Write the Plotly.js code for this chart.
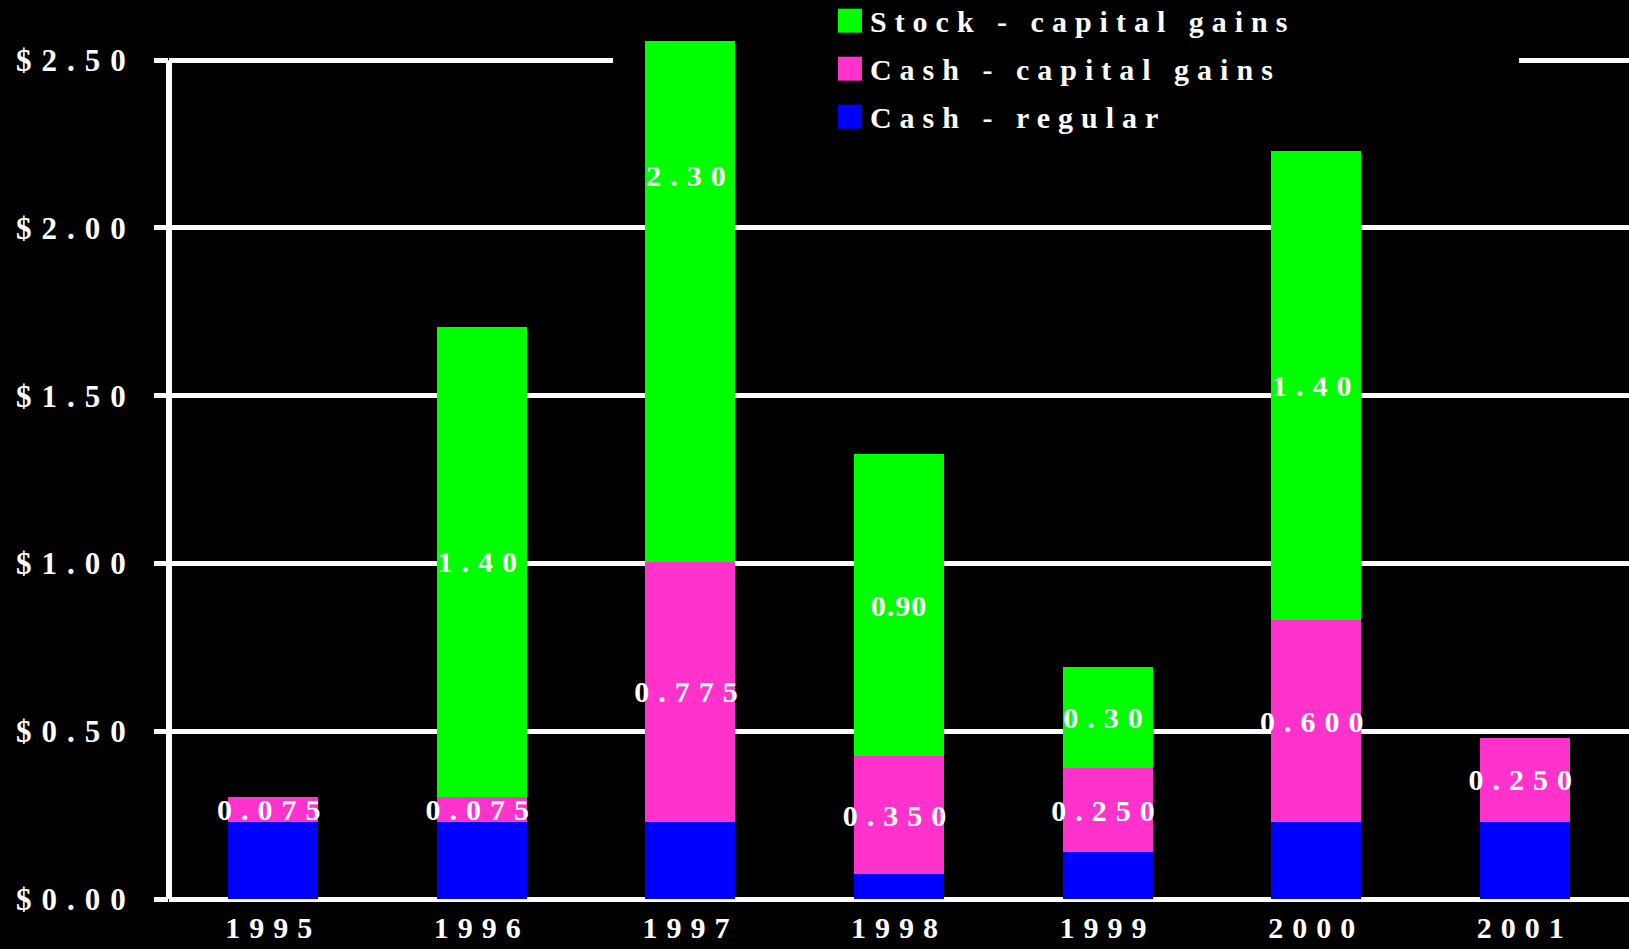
<!DOCTYPE html>
<html><head><meta charset="utf-8">
<script src="https://cdn.plot.ly/plotly-3.0.1.min.js"></script>
<style>
html,body{margin:0;padding:0;background:#000;}
#chart{width:1629px;height:949px;}
#chart .ytick text{letter-spacing:10px;}
#chart .xtick text{letter-spacing:9px;}
#chart .bartext{letter-spacing:9px;}
#chart .legendtext{letter-spacing:8px;}
#chart .legend g, #chart .legend .scrollbox{clip-path:none !important;}
</style></head><body><div id="chart"></div>
<script>
const years = ["1995","1996","1997","1998","1999","2000","2001"];
const cashRegular = [0.23, 0.23, 0.23, 0.075, 0.14, 0.23, 0.23];
const cashCapGains = [0.075, 0.075, 0.775, 0.35, 0.25, 0.60, 0.25];
const stockCapGains = [null, 1.40, 2.30, 0.90, 0.30, 1.40, null];
const cashCapGainsLabels = ["0.075","0.075","0.775","0.350","0.250","0.600","0.250"];
const stockCapGainsLabels = ["","1.40","2.30","0.90","0.30","1.40",""];
const yTickVals = [0, 0.5, 1, 1.5, 2, 2.5];
const yTickText = ["$0.00","$0.50","$1.00","$1.50","$2.00","$2.50"];
const seriesNames = ["Cash - regular","Cash - capital gains","Stock - capital gains"];
const seriesColors = ["#0000FF","#FF33CC","#00FF00"];
const legendRanks = [3, 2, 1];

const FONT = "Liberation Serif, 'Times New Roman', serif";
const labelFont = {family: FONT, size: 30, color: "#FFFFFF", weight: "bold"};

function barTrace(i, values, labels) {
  const t = {
    type: "bar", name: seriesNames[i], x: years, y: values,
    marker: {color: seriesColors[i], line: {width: 0}},
    legendgroup: "g" + i, legendrank: legendRanks[i], hoverinfo: "skip"
  };
  if (labels) {
    t.text = labels;
    t.textposition = "inside";
    t.insidetextanchor = "middle";
    t.textangle = 0;
    t.constraintext = "none";
    t.insidetextfont = labelFont;
    t.textfont = labelFont;
  } else {
    t.textposition = "none";
  }
  return t;
}

const data = [
  barTrace(0, cashRegular, null),
  barTrace(1, cashCapGains, cashCapGainsLabels),
  barTrace(2, stockCapGains, stockCapGainsLabels)
];

const layout = {
  width: 1629, height: 949,
  paper_bgcolor: "#000000", plot_bgcolor: "#000000",
  margin: {l: 169, r: 0, t: 41, b: 50, autoexpand: false},
  barmode: "stack", bargap: 0.568,
  showlegend: true,
  legend: {
    x: 0.4527, y: 1.054, xanchor: "left", yanchor: "top",
    bgcolor: "rgba(0,0,0,0)", borderwidth: 0,
    traceorder: "grouped", tracegroupgap: 6,
    font: {family: FONT, size: 30, color: "#FFFFFF", weight: "bold"}
  },
  xaxis: {
    type: "category", showgrid: false, zeroline: false, showline: false,
    ticks: "", tickfont: {family: FONT, size: 30, color: "#FFFFFF", weight: "bold"},
    ticklabelstandoff: 8
  },
  yaxis: {
    range: [0, 2.557], tickmode: "array", tickvals: yTickVals, ticktext: yTickText,
    showgrid: true, gridcolor: "#FFFFFF", gridwidth: 5,
    zeroline: true, zerolinecolor: "#FFFFFF", zerolinewidth: 5,
    showline: false,
    ticks: "outside", ticklen: 14, tickwidth: 5, tickcolor: "#FFFFFF",
    tickfont: {family: FONT, size: 31, color: "#FFFFFF", weight: "bold"},
    ticklabelstandoff: 12
  },
  shapes: [
    {
      type: "rect", xref: "x", yref: "y", layer: "between",
      x0: 1.629, x1: 5.973, y0: 2.3, y1: 2.62,
      fillcolor: "#000000", line: {width: 0}
    },
    {
      type: "line", xref: "paper", yref: "y", layer: "above",
      x0: 0, x1: 0, y0: 0, y1: 2.5,
      line: {color: "#FFFFFF", width: 6}
    }
  ]
};

Plotly.newPlot("chart", data, layout, {staticPlot: true, displayModeBar: false}).then(function () {
  document.querySelectorAll("#chart .bartext").forEach(function (t) {
    if (t.textContent === "0.90") t.style.letterSpacing = "1px";
  });
  document.querySelectorAll("#chart .legend .legendpoints path").forEach(function (p) {
    p.setAttribute("d", "M12,12H-12V-12H12Z");
  });
});
</script>
</body></html>
